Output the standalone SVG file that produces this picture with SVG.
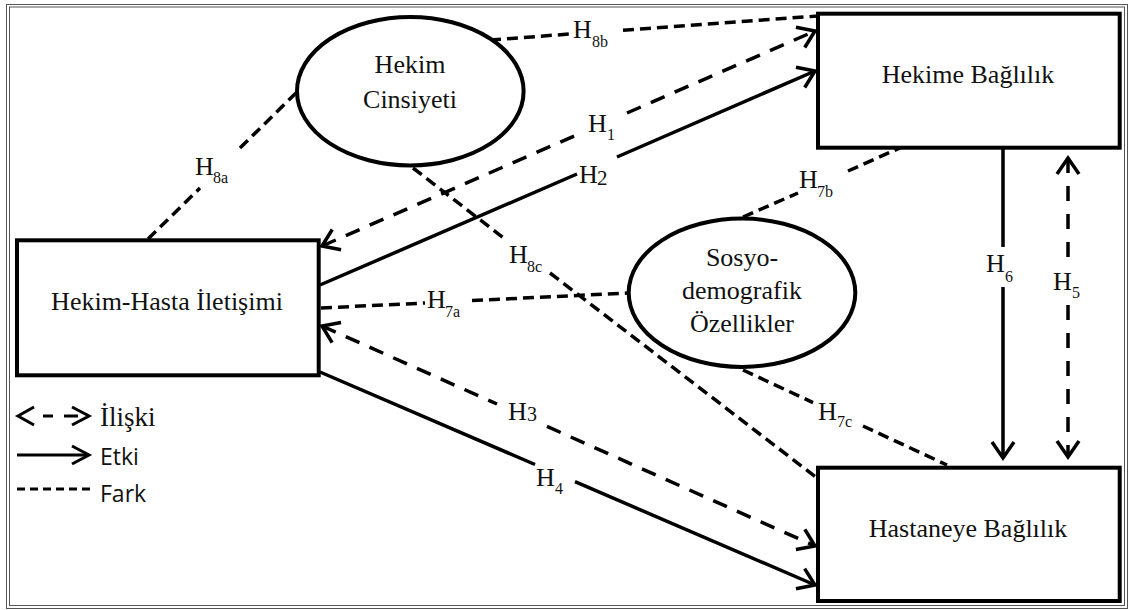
<svg xmlns="http://www.w3.org/2000/svg" width="1129" height="610" viewBox="0 0 1129 610">
<style>
.box{fill:#fff;stroke:#000;stroke-width:4}
.ell{fill:#fff;stroke:#000;stroke-width:4}
.nt{font-family:"Liberation Serif","Times New Roman",serif;font-size:26px;fill:#111;text-anchor:middle}
.lh{font-family:"Liberation Serif","Times New Roman",serif;font-size:26px;fill:#111}
.ls{font-family:"Liberation Serif","Times New Roman",serif;font-size:16px;fill:#111}
.solid{fill:none;stroke:#000;stroke-width:3.5}
.rel{fill:none;stroke:#000;stroke-width:3.5;stroke-dasharray:15 11}
.fark{fill:none;stroke:#000;stroke-width:3.5;stroke-dasharray:11 6}
.leg{fill:none;stroke:#000;stroke-width:3}
.lt{font-family:"Open Sans","Liberation Sans",sans-serif;font-size:23px;fill:#111}
</style>
<defs>
<marker id="ah" markerUnits="userSpaceOnUse" orient="auto-start-reverse" overflow="visible" markerWidth="1" markerHeight="1" refX="0" refY="0">
<path d="M-16,-11 L0,0 L-16,11" fill="none" stroke="#000" stroke-width="3.5" stroke-dasharray="none"/>
</marker>
</defs>
<rect width="1129" height="610" fill="#fff"/>
<rect x="6.5" y="4.5" width="1121" height="604" fill="none" stroke="#555" stroke-width="1"/>
<rect x="9.5" y="7" width="1115" height="598.5" fill="none" stroke="#555" stroke-width="1"/>

<g id="connectors">
<path id="c-h8a" class="fark" d="M148,239 L200,188 M240,148 L296,93"/>
<path id="c-h8b" class="fark" d="M490,40 L570,34 M623,30.3 L818,16"/>
<path id="c-h8c" class="fark" d="M413,168 L505,239 M550,273 L817,478"/>
<path id="c-h7a" class="fark" d="M321,308 L425,303 M472,300.6 L628,293"/>
<path id="c-h7b" class="fark" d="M743,217 L798,193 M848,171 L902,147"/>
<path id="c-h7c" class="fark" d="M743,370 L813,402.6 M863,426 L947,465"/>
<path id="c-h1" class="rel" d="M322,246 L580,133.5 M627,113 L815,31" marker-start="url(#ah)" marker-end="url(#ah)"/>
<path id="c-h3" class="rel" d="M322,326 L497,404 M547,426.4 L815,546" marker-start="url(#ah)" marker-end="url(#ah)"/>
<path id="c-h5" class="rel" d="M1068,158 L1068,265 M1068,305 L1068,457" marker-start="url(#ah)" marker-end="url(#ah)" style="stroke-dasharray:15 13"/>
<path id="c-h2" class="solid" d="M320,285 L577,174 M617,157 L815,71" marker-end="url(#ah)"/>
<path id="c-h4" class="solid" d="M320,372 L535,464.5 M575,481.7 L815,585" marker-end="url(#ah)"/>
<path id="c-h6" class="solid" d="M1003,149 L1003,247 M1003,287 L1003,458" marker-end="url(#ah)"/>
</g>

<g id="labels">
<text class="lh" x="195" y="175">H<tspan class="ls" x="213" y="183">8a</tspan></text>
<text class="lh" x="573" y="38">H<tspan class="ls" x="592" y="47">8b</tspan></text>
<text class="lh" x="588" y="132">H<tspan class="ls" x="607" y="140">1</tspan></text>
<text class="lh" x="579" y="183">H<tspan x="597" y="185" style="font-size:21px">2</tspan></text>
<text class="lh" x="509" y="263">H<tspan class="ls" x="527" y="272">8c</tspan></text>
<text class="lh" x="427" y="308">H<tspan class="ls" x="445" y="317">7a</tspan></text>
<text class="lh" x="799" y="188">H<tspan class="ls" x="817" y="197">7b</tspan></text>
<text class="lh" x="818" y="420">H<tspan class="ls" x="837" y="427">7c</tspan></text>
<text class="lh" x="508" y="420">H<tspan x="527" y="421" style="font-size:20px">3</tspan></text>
<text class="lh" x="536" y="486">H<tspan class="ls" x="555" y="494">4</tspan></text>
<text class="lh" x="986" y="272">H<tspan class="ls" x="1005" y="282">6</tspan></text>
<text class="lh" x="1053" y="290">H<tspan class="ls" x="1072" y="298">5</tspan></text>
</g>

<g id="node-hekime-baglilik">
<rect class="box" x="818" y="13.7" width="301.7" height="134"/>
<text class="nt" x="968" y="83">Hekime Bağlılık</text>
</g>
<g id="node-hastaneye-baglilik">
<rect class="box" x="818" y="467.7" width="301.7" height="133.3"/>
<text class="nt" x="968" y="537">Hastaneye Bağlılık</text>
</g>
<g id="node-hekim-hasta-iletisimi">
<rect class="box" x="17" y="240.3" width="301.7" height="135"/>
<text class="nt" x="167" y="310">Hekim-Hasta İletişimi</text>
</g>
<g id="node-hekim-cinsiyeti">
<ellipse class="ell" cx="410.3" cy="91.2" rx="113.3" ry="74.2"/>
<text class="nt" x="410" y="73">Hekim</text>
<text class="nt" x="410" y="108">Cinsiyeti</text>
</g>
<g id="node-sosyodemografik">
<ellipse class="ell" cx="742" cy="292.8" rx="113.3" ry="74.2"/>
<text class="nt" x="742" y="266">Sosyo-</text>
<text class="nt" x="742" y="299">demografik</text>
<text class="nt" x="742" y="332">Özellikler</text>
</g>

<g id="legend">
<polyline class="leg" points="34,407 18,416 34,425"/>
<line class="leg" x1="43" y1="416" x2="53" y2="416"/>
<line class="leg" x1="64" y1="416" x2="78" y2="416"/>
<polyline class="leg" points="72,407 89,416 72,425"/>
<text x="100" y="426" style="font-family:'Liberation Serif','Times New Roman',serif;font-size:27px;fill:#111">İlişki</text>
<line class="leg" x1="17" y1="455" x2="88" y2="455"/>
<polyline class="leg" points="72,446 89,455 72,464"/>
<text class="lt" x="100" y="465">Etki</text>
<line class="leg" x1="17" y1="489" x2="90" y2="489" stroke-dasharray="8 5"/>
<text class="lt" x="100" y="502">Fark</text>
</g>
</svg>
